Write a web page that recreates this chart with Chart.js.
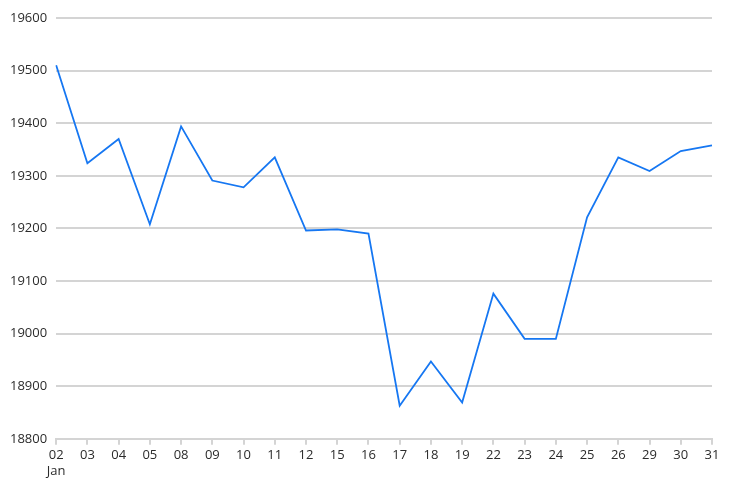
<!DOCTYPE html>
<html>
<head>
<meta charset="utf-8">
<script src="https://cdn.jsdelivr.net/npm/chart.js@4/dist/chart.umd.min.js"></script>
<style>
  html, body { margin: 0; padding: 0; background: #fff; }
  #wrap { width: 737px; height: 498px; position: relative; }
</style>
</head>
<body>
<div id="wrap"><canvas id="chart"></canvas></div>
<script>
// days of January (first one carries the month)
const dayLabels = [['02', 'Jan'], '03', '04', '05', '08', '09', '10', '11', '12', '15', '16',
  '17', '18', '19', '22', '23', '24', '25', '26', '29', '30', '31'];
const closeValues = [19510, 19324, 19370, 19208, 19394, 19291, 19278, 19335, 19196, 19198, 19190,
  18863, 18947, 18869, 19076, 18990, 18990, 19221, 19335, 19309, 19347, 19358];
const yMin = 18800;
const yMax = 19600;
const yStep = 100;

const ctx = document.getElementById('chart').getContext('2d');
const chart = new Chart(ctx, {
  type: 'line',
  data: {
    labels: dayLabels,
    datasets: [{
      data: closeValues,
      borderColor: '#1677f2',
      borderWidth: 1.8,
      pointRadius: 0,
      tension: 0,
      fill: false
    }]
  },
  options: {
    responsive: true,
    maintainAspectRatio: false,
    animation: false,
    layout: { padding: { left: 1, right: 25, top: 18, bottom: 16 } },
    plugins: {
      legend: { display: false },
      tooltip: { enabled: false }
    },
    scales: {
      x: {
        offset: false,
        grid: {
          drawOnChartArea: false,
          drawTicks: true,
          tickLength: 6,
          color: '#d4d4d4',
          lineWidth: 2
        },
        border: { display: true, color: '#d4d4d4', width: 2 },
        ticks: {
          color: '#2b2b2b',
          font: { family: 'Open Sans', size: 13 },
          padding: 3,
          maxRotation: 0,
          autoSkip: false
        }
      },
      y: {
        min: yMin,
        max: yMax,
        grid: { color: '#d4d4d4', lineWidth: 2, drawTicks: false },
        border: { display: false },
        ticks: {
          stepSize: yStep,
          color: '#2b2b2b',
          font: { family: 'Open Sans', size: 13 },
          padding: 9,
          callback: v => String(v)
        }
      }
    }
  }
});
</script>
</body>
</html>
